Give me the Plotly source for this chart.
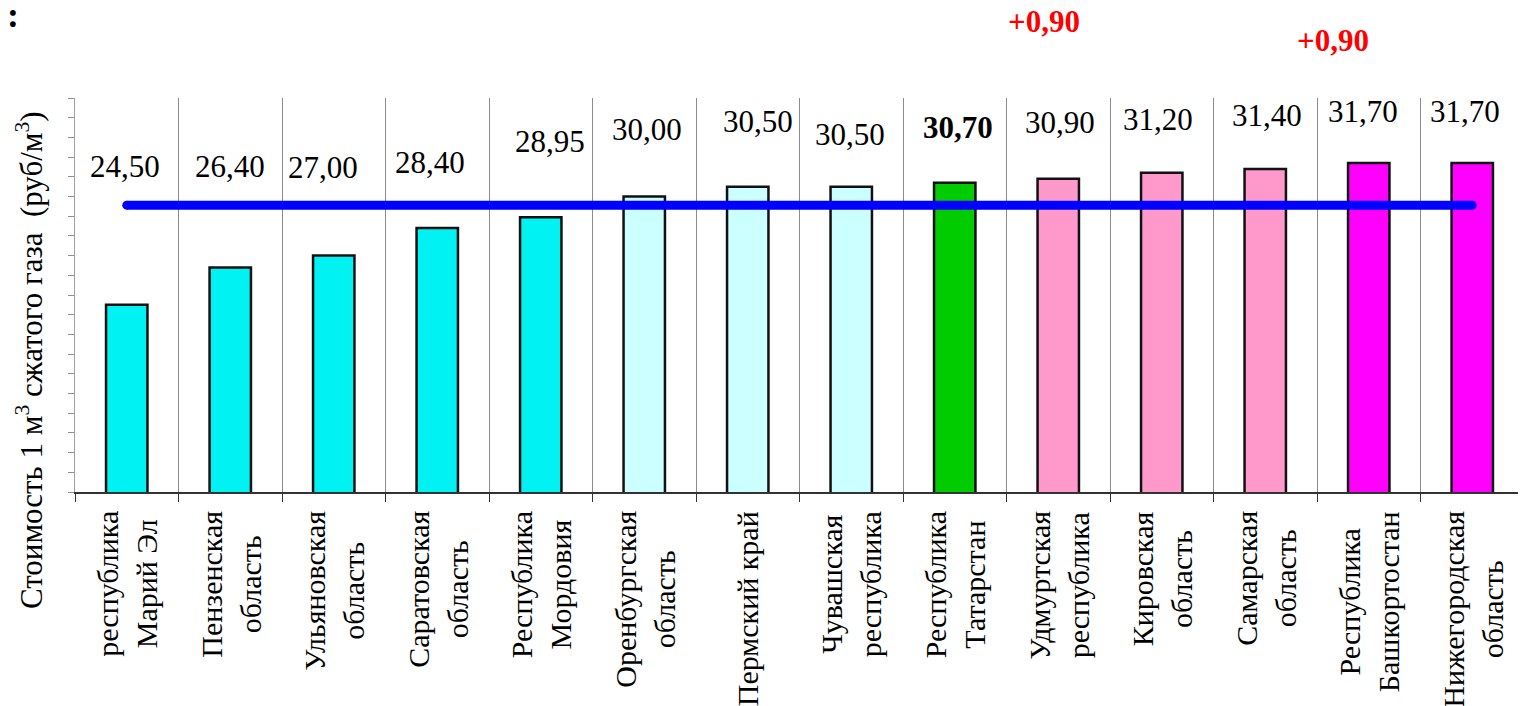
import plotly.graph_objects as go

# ---- data ----
regions = [
    "республика<br>Марий Эл",
    "Пензенская<br>область",
    "Ульяновская<br>область",
    "Саратовская<br>область",
    "Республика<br>Мордовия",
    "Оренбургская<br>область",
    "Пермский край",
    "Чувашская<br>республика",
    "Республика<br>Татарстан",
    "Удмуртская<br>республика",
    "Кировская<br>область",
    "Самарская<br>область",
    "Республика<br>Башкортостан",
    "Нижегородская<br>область",
]
prices = [24.50, 26.40, 27.00, 28.40, 28.95, 30.00, 30.50, 30.50, 30.70, 30.90, 31.20, 31.40, 31.70, 31.70]
price_labels = ["24,50", "26,40", "27,00", "28,40", "28,95", "30,00", "30,50", "30,50",
                "30,70", "30,90", "31,20", "31,40", "31,70", "31,70"]
average_price = [29.56, 29.56]
increase_labels = ["+0,90", "+0,90"]
y_title = "Стоимость 1 м<sup>3</sup> сжатого газа  (руб/м<sup>3</sup>)"

# ---- styles ----
bar_colors = ["#00F2F2"] * 5 + ["#CCFFFF"] * 3 + ["#00CC00"] + ["#FF99CC"] * 3 + ["#FF00FF"] * 2
label_y = [31.50, 31.50, 31.45, 31.75, 32.77, 33.38, 33.83, 33.17, 33.48, 33.78, 33.93, 34.09, 34.29, 34.29]
label_xshift = [-2, 0, -11, -7, 9, 3, 10, -1, 3, 2, -4, 2, -6, -7]
label_bold = [False] * 8 + [True] + [False] * 5
inc_pos = [(0.669, 1.193), (0.868, 1.147)]

SERIF = "Liberation Serif, Times New Roman, serif"

fig = go.Figure()
fig.add_trace(go.Bar(
    x=regions, y=prices,
    marker=dict(color=bar_colors, line=dict(color="#111111", width=2.5)),
    width=0.40, showlegend=False, hoverinfo="x+y",
))
fig.add_trace(go.Scatter(
    x=[regions[0], regions[-1]], y=average_price,
    mode="lines+markers",
    line=dict(color="#0000FF", width=9),
    marker=dict(color="#0000FF", size=9),
    showlegend=False,
))

annotations = []
# value labels
for r, lab, ly, dx, b in zip(regions, price_labels, label_y, label_xshift, label_bold):
    annotations.append(dict(
        x=r, y=ly, xref="x", yref="y", text=f"<b>{lab}</b>" if b else lab,
        showarrow=False, xshift=dx, xanchor="center", yanchor="middle",
        font=dict(family=SERIF, size=31, color="black"),
    ))
# category labels (vertical, lines centred on each other)
for r in regions:
    annotations.append(dict(
        x=r, y=0, xref="x", yref="paper", text=r,
        textangle=-90, showarrow=False, align="center",
        xanchor="center", yanchor="top", yshift=-17,
        font=dict(family=SERIF, size=30, color="black"),
    ))
for lab, (px, py) in zip(increase_labels, inc_pos):
    annotations.append(dict(
        x=px, y=py, xref="paper", yref="paper", text=f"<b>{lab}</b>",
        showarrow=False, xanchor="center", yanchor="middle",
        font=dict(family=SERIF, size=31, color="#FF0000"),
    ))
annotations.append(dict(
    x=-0.0317, y=0.335, xref="paper", yref="paper", text=y_title,
    textangle=-90, showarrow=False, xanchor="center", yanchor="middle",
    font=dict(family=SERIF, size=31, color="black"),
))
annotations.append(dict(
    x=-0.0425, y=1.21, xref="paper", yref="paper", text="<b>:</b>",
    showarrow=False, xanchor="center", yanchor="middle",
    font=dict(family=SERIF, size=36, color="black"),
))

fig.update_layout(
    width=1518, height=698,
    margin=dict(l=67, r=2, t=90, b=214),
    paper_bgcolor="white", plot_bgcolor="white",
    annotations=annotations,
    xaxis=dict(
        type="category", tickson="boundaries", range=[-0.5, 13.5],
        showgrid=True, gridcolor="#8C8C8C", gridwidth=1,
        showline=True, linecolor="#333333", linewidth=1.5,
        ticks="outside", ticklen=8, tickcolor="#333333", tickwidth=1.2,
        showticklabels=False,
    ),
    yaxis=dict(
        range=[15, 35], tick0=15, dtick=1,
        showgrid=False, zeroline=False,
        showline=True, linecolor="#A0A0A0", linewidth=1.2,
        ticks="outside", ticklen=6, tickcolor="#909090",
        showticklabels=False,
    ),
)

fig.write_html("out.html")
